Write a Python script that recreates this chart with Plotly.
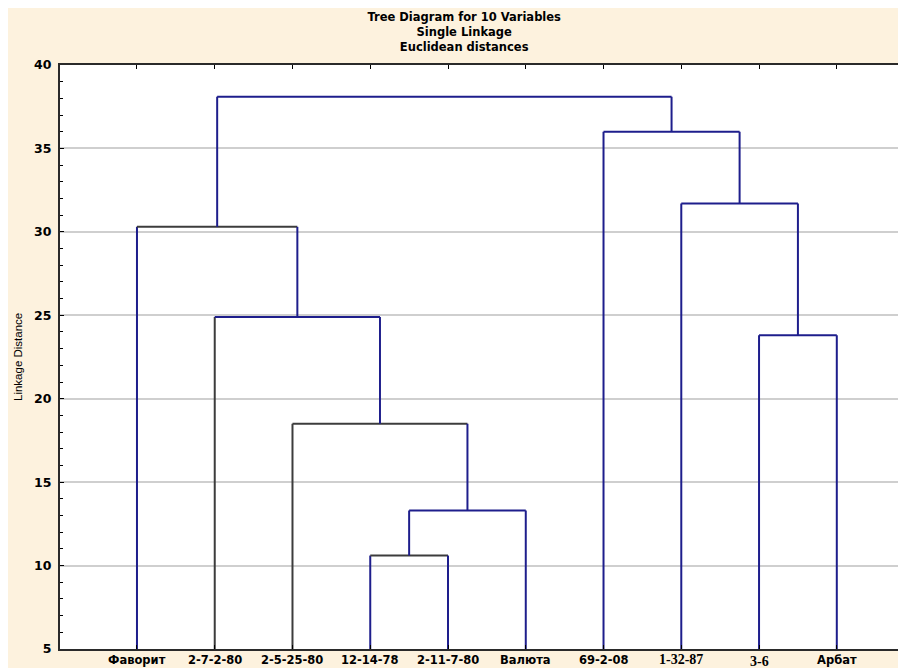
import plotly.graph_objects as go

# ---- data ----
leaves = ["Фаворит", "2-7-2-80", "2-5-25-80", "12-14-78", "2-11-7-80",
          "Валюта", "69-2-08", "1-32-87", "3-6", "Арбат"]
# merges: (left node, right node, linkage distance); nodes >= 10 are earlier merges
merge_left = [3, 10, 2, 1, 0, 8, 7, 6, 14]
merge_right = [4, 5, 11, 12, 13, 9, 15, 16, 17]
merge_height = [10.6, 13.3, 18.5, 24.9, 30.3, 23.8, 31.7, 36.0, 38.1]
y_ticks = [5, 10, 15, 20, 25, 30, 35, 40]

# ---- styling ----
NAVY = "#1e1e8c"
GRAY = "#3c3c3c"
# colours per merge: (left vertical, horizontal, right vertical)
seg_colors = [
    (NAVY, GRAY, NAVY),
    (NAVY, NAVY, NAVY),
    (GRAY, GRAY, NAVY),
    (GRAY, NAVY, NAVY),
    (NAVY, GRAY, NAVY),
    (NAVY, NAVY, NAVY),
    (NAVY, NAVY, NAVY),
    (NAVY, NAVY, NAVY),
    (NAVY, NAVY, NAVY),
]
Y_MIN = 5

n = len(leaves)
node_x = {i: float(i) for i in range(n)}
node_y = {i: float(Y_MIN) for i in range(n)}

fig = go.Figure()
for k, (a, b, h) in enumerate(zip(merge_left, merge_right, merge_height)):
    xa, xb = node_x[a], node_x[b]
    ya, yb = node_y[a], node_y[b]
    cl, ch, cr = seg_colors[k]
    for xs, ys, c in (([xa, xa], [ya, h], cl), ([xa, xb], [h, h], ch), ([xb, xb], [yb, h], cr)):
        fig.add_trace(go.Scatter(x=xs, y=ys, mode="lines",
                                 line=dict(color=c, width=2),
                                 hoverinfo="skip", showlegend=False))
    node_x[n + k] = (xa + xb) / 2
    node_y[n + k] = h

CREAM = "#fdf2de"
label_font = dict(family="DejaVu Sans", size=11.5, color="black")
for i, lab in enumerate(leaves):
    f = dict(label_font)
    shift = -2
    text = "<b>%s</b>" % lab
    if lab == "1-32-87":
        f = dict(family="Liberation Serif", size=14, color="black")
        shift = -1
    elif lab == "3-6":
        f = dict(family="Liberation Serif", size=14, color="black")
        shift = -3
    fig.add_annotation(x=i, y=0, xref="x", yref="paper", text=text, showarrow=False,
                       yanchor="top", xanchor="center", yshift=shift, font=f)

fig.add_annotation(x=0, y=0.5, xref="paper", yref="paper", text="Linkage Distance",
                   textangle=-90, showarrow=False, xanchor="center", yanchor="middle",
                   xshift=-42, font=dict(family="Liberation Sans", size=11.5, color="black"))

fig.update_layout(
    width=898, height=660,
    margin=dict(l=52, r=0, t=57, b=19),
    paper_bgcolor=CREAM, plot_bgcolor="white",
    title=dict(text="<b>Tree Diagram for 10 Variables<br>Single Linkage<br>Euclidean distances</b>",
               x=0.508, xanchor="center", y=0.980, yanchor="top",
               font=dict(family="DejaVu Sans", size=11.5, color="black")),
    xaxis=dict(range=[-0.99, 9.89], tickvals=list(range(n)), showticklabels=False,
               showgrid=False, zeroline=False, showline=True, linecolor="#2a2a2a", linewidth=2,
               mirror="ticks", ticks="inside", ticklen=4, tickcolor="black"),
    yaxis=dict(range=[5, 40], tickvals=y_ticks, showgrid=True, gridcolor="#cfcfcf", gridwidth=1.5,
               zeroline=False, showline=True, linecolor="#2a2a2a", linewidth=2,
               ticks="inside", ticklen=4, tickcolor="black",
               minor=dict(dtick=1, ticks="inside", ticklen=3, tickcolor="black", showgrid=False),
               tickfont=dict(family="DejaVu Sans", size=12.5, color="black", weight="bold"),
               ticklabelstandoff=4),
)

fig.write_html("out.html")
